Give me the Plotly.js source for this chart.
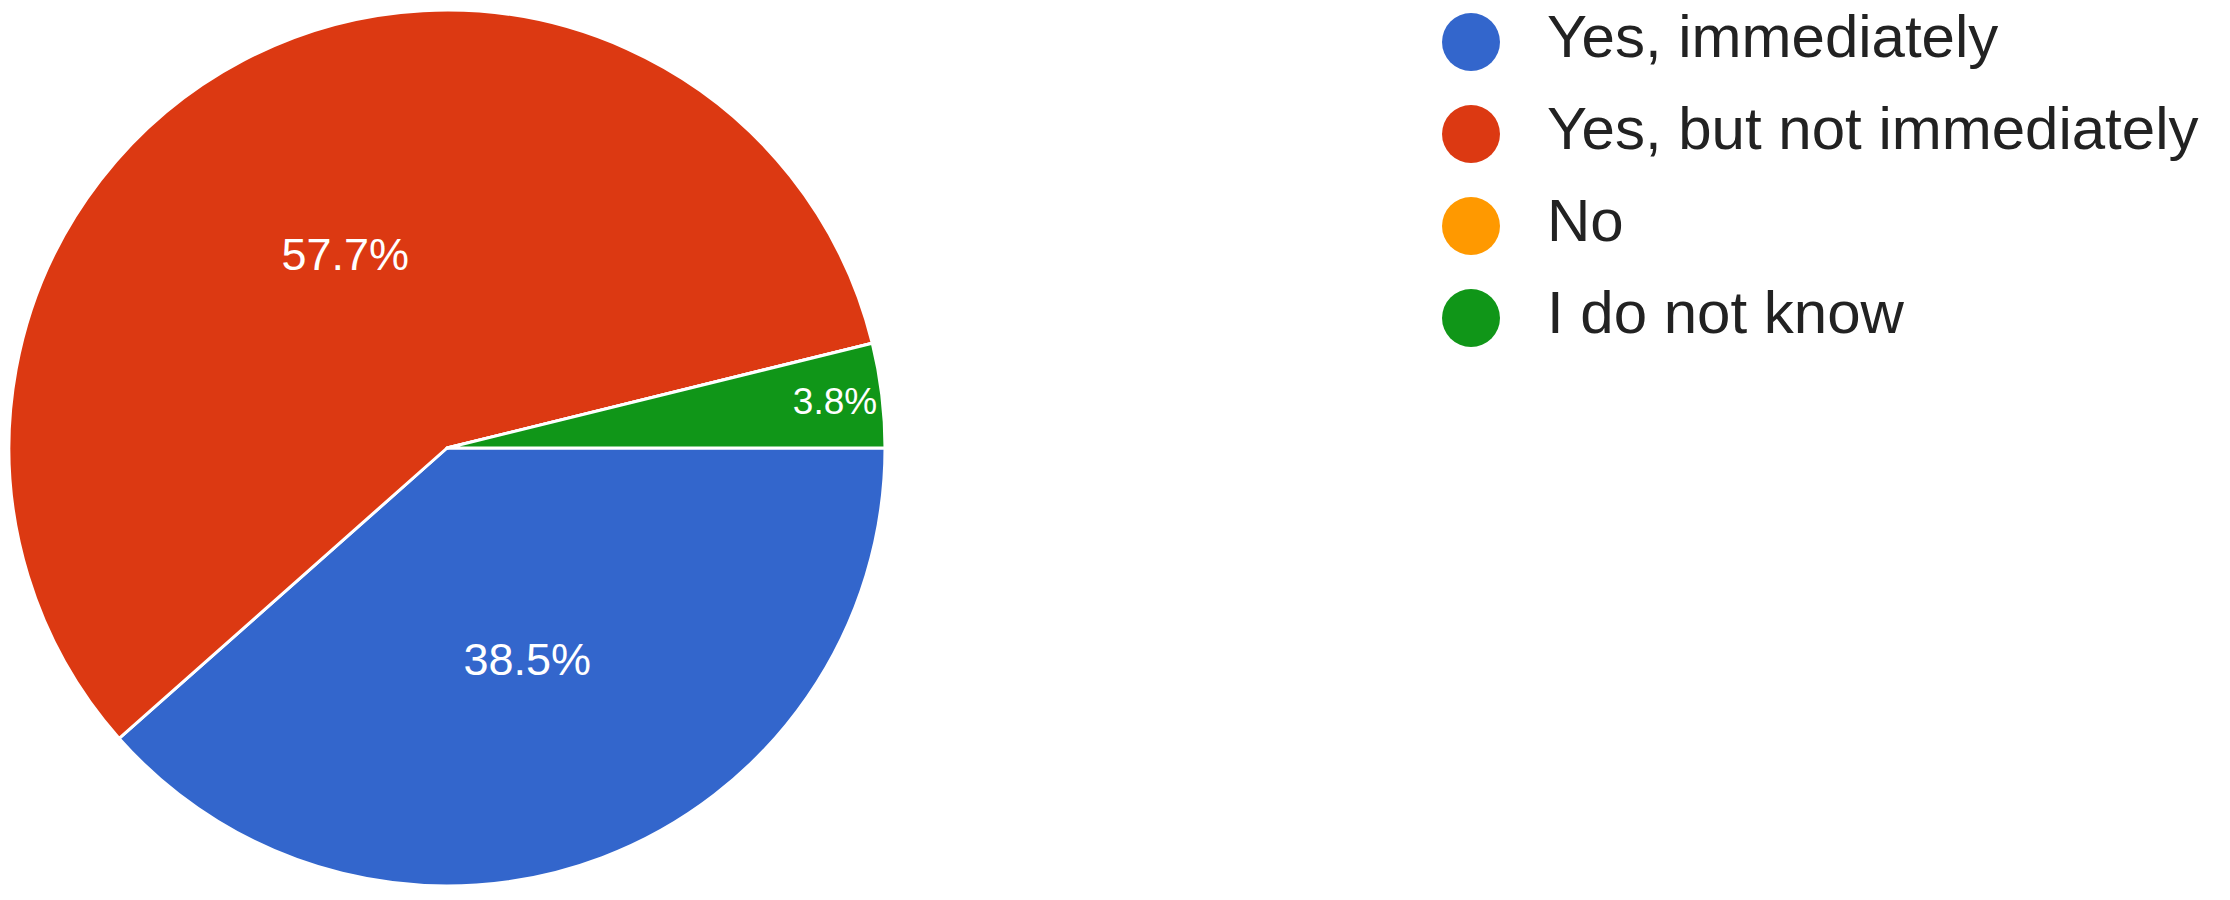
<!DOCTYPE html>
<html>
<head>
<meta charset="utf-8">
<script src="https://cdn.plot.ly/plotly-3.0.1.min.js"></script>
<style>
  body { margin: 0; background: #fff; }
  #chart { width: 2230px; height: 900px; }
</style>
</head>
<body>
<div id="chart"></div>
<script>
const answers = ['Yes, immediately', 'Yes, but not immediately', 'No', 'I do not know'];
const counts = [10, 15, 0, 1];
const colors = ['#3366cc', '#dc3912', '#ff9900', '#109618'];

const pie = {
    type: 'pie',
    labels: answers,
    values: counts,
    sort: false,
    direction: 'clockwise',
    rotation: 90,
    marker: { colors: colors, line: { color: '#ffffff', width: 3 } },
    texttemplate: counts.map(v => v ? '%{percent:.1%}' : ''),
    textposition: 'inside',
    insidetextorientation: 'horizontal',
    textfont: { family: 'Liberation Sans, Arial, sans-serif', size: 45, color: '#ffffff' },
    hoverinfo: 'label+percent',
    showlegend: false,
    domain: { x: [9 / 2230, 885 / 2230], y: [14 / 900, 890 / 900] }
};

// legend drawn as a column of big dots with their labels
const legendDots = {
    type: 'scatter',
    mode: 'markers',
    x: answers.map(() => 0),
    y: answers,
    marker: { size: 58, color: colors },
    hoverinfo: 'skip',
    showlegend: false
};

const legendText = {
    type: 'scatter',
    mode: 'text',
    x: answers.map(() => 76),
    y: answers,
    text: answers,
    textposition: 'middle right',
    textfont: { family: 'Liberation Sans, Arial, sans-serif', size: 60, color: '#222222' },
    hoverinfo: 'skip',
    showlegend: false
};

const layout = {
    width: 2230,
    height: 900,
    margin: { l: 0, r: 0, t: 0, b: 0 },
    paper_bgcolor: '#ffffff',
    plot_bgcolor: 'rgba(0,0,0,0)',
    showlegend: false,
    xaxis: { range: [-1471, 759], visible: false, fixedrange: true },
    yaxis: {
        type: 'category',
        categoryorder: 'array',
        categoryarray: answers,
        range: [9.326, -0.4565],
        visible: false,
        fixedrange: true
    }
};

Plotly.newPlot('chart', [pie, legendDots, legendText], layout, { displayModeBar: false });
</script>
</body>
</html>
